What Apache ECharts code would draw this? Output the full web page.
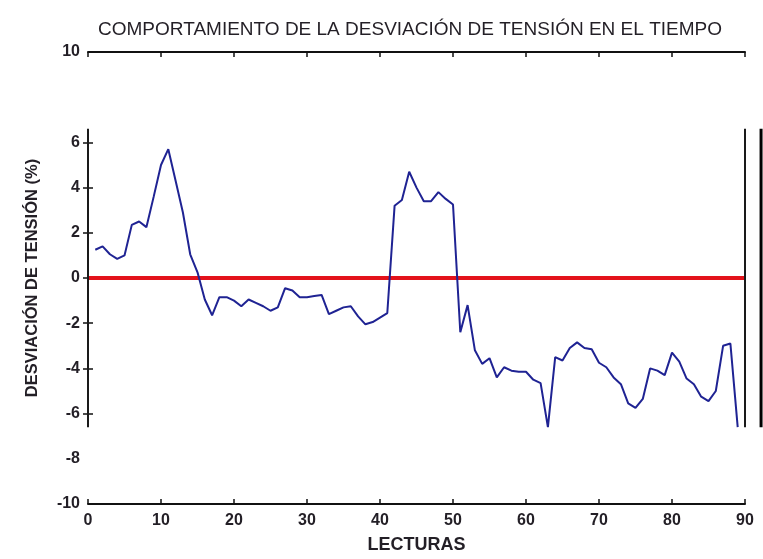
<!DOCTYPE html>
<html>
<head>
<meta charset="utf-8">
<script src="https://cdn.jsdelivr.net/npm/echarts@6/dist/echarts.min.js"></script>
<style>
  html, body { margin: 0; padding: 0; background: #fff; }
  #chart { width: 763px; height: 559px; }
</style>
</head>
<body>
<div id="chart"></div>
<script>
// lecturas 1..89, desviacion de tension (%)
var desviacion = [
  1.25, 1.4, 1.05, 0.85, 1.0, 2.35, 2.5, 2.25, 3.6, 5.0,
  5.7, 4.3, 2.9, 1.05, 0.25, -0.95, -1.65, -0.85, -0.85, -1.0,
  -1.25, -0.95, -1.1, -1.25, -1.45, -1.3, -0.45, -0.55, -0.85, -0.85,
  -0.8, -0.75, -1.6, -1.45, -1.3, -1.25, -1.7, -2.05, -1.95, -1.75,
  -1.55, 3.2, 3.45, 4.7, 4.0, 3.4, 3.4, 3.8, 3.5, 3.25,
  -2.4, -1.2, -3.2, -3.8, -3.55, -4.4, -3.95, -4.1, -4.15, -4.15,
  -4.5, -4.65, -6.6, -3.5, -3.65, -3.1, -2.85, -3.1, -3.15, -3.75,
  -3.95, -4.4, -4.7, -5.55, -5.75, -5.35, -4.0, -4.1, -4.3, -3.3,
  -3.7, -4.45, -4.7, -5.25, -5.45, -5.0, -3.0, -2.9, -6.6
];
var lineaCero = [[0, 0], [90, 0]];
var yLabels = [-10, -8, -6, -4, -2, 0, 2, 4, 6, 10];
var yTicks = [-6, -4, -2, 0, 2, 4, 6];
// tramo visible de los ejes verticales (recorte de la figura original)
var tramoEje = [-6.6, 6.6];
var marcoExtraX = 92.2;

var chart = echarts.init(document.getElementById('chart'));

var serieDatos = desviacion.map(function (v, i) { return [i + 1, v]; });

var txt = '#231f26';
var labelStyle = { color: txt, fontFamily: 'Liberation Sans', fontWeight: 'bold', fontSize: 16 };

var option = {
  animation: false,
  backgroundColor: '#fff',
  title: {
    text: 'COMPORTAMIENTO DE LA DESVIACIÓN DE TENSIÓN EN EL TIEMPO',
    left: 405,
    textAlign: 'center',
    top: 15,
    textStyle: { color: txt, fontFamily: 'Liberation Sans', fontWeight: 'normal', fontSize: 19 }
  },
  grid: { left: 88, right: 18, top: 52, bottom: 52 },
  xAxis: [{
    type: 'value', min: 0, max: 90, interval: 10, position: 'bottom',
    name: 'LECTURAS', nameLocation: 'middle', nameGap: 32,
    nameTextStyle: { color: txt, fontFamily: 'Liberation Sans', fontWeight: 'bold', fontSize: 18 },
    axisLine: { show: true, onZero: false, lineStyle: { color: '#111', width: 2 } },
    axisTick: { show: true, inside: true, length: 5, lineStyle: { color: '#111', width: 1.5 } },
    axisLabel: Object.assign({ margin: 9, showMinLabel: true, showMaxLabel: true }, labelStyle),
    splitLine: { show: false }
  }, {
    type: 'value', min: 0, max: 90, interval: 10, position: 'top',
    axisLine: { show: true, onZero: false, lineStyle: { color: '#111', width: 2 } },
    axisTick: { show: true, inside: true, length: 5, lineStyle: { color: '#111', width: 1.5 } },
    axisLabel: { show: false },
    splitLine: { show: false }
  }],
  yAxis: [{
    type: 'value', min: -10, max: 10, interval: 2, position: 'left',
    name: 'DESVIACIÓN DE TENSIÓN (%)', nameLocation: 'middle', nameGap: 47,
    nameTextStyle: { color: txt, fontFamily: 'Liberation Sans', fontWeight: 'bold', fontSize: 16.5 },
    axisLine: { show: false },
    axisTick: { show: true, inside: true, length: 5, customValues: yTicks, lineStyle: { color: '#111', width: 1.5 } },
    axisLabel: Object.assign({ margin: 8, customValues: yLabels, showMinLabel: true, showMaxLabel: true }, labelStyle),
    splitLine: { show: false }
  }, {
    type: 'value', min: -10, max: 10, interval: 2, position: 'right',
    axisLine: { show: false },
    axisTick: { show: true, inside: true, length: 5, customValues: yTicks, lineStyle: { color: '#111', width: 1.5 } },
    axisLabel: { show: false },
    splitLine: { show: false }
  }],
  series: [{
    name: 'cero',
    type: 'line',
    data: lineaCero,
    symbol: 'none',
    silent: true,
    lineStyle: { color: '#e3121b', width: 4 },
    markLine: {
      silent: true,
      symbol: ['none', 'none'],
      label: { show: false },
      lineStyle: { color: '#1a1a1a', width: 2, type: 'solid' },
      data: [
        [{ coord: [0, tramoEje[0]] }, { coord: [0, tramoEje[1]] }],
        [{ coord: [90, tramoEje[0]] }, { coord: [90, tramoEje[1]] }]
      ]
    }
  }, {
    name: 'desviacion',
    type: 'line',
    data: serieDatos,
    symbol: 'none',
    silent: true,
    lineStyle: { color: '#1f2393', width: 2 }
  }]
};

chart.setOption(option);

// linea vertical suelta a la derecha del marco (fuera del rango del eje)
var pA = chart.convertToPixel({ gridIndex: 0 }, [marcoExtraX, tramoEje[0]]);
var pB = chart.convertToPixel({ gridIndex: 0 }, [marcoExtraX, tramoEje[1]]);
chart.setOption({
  graphic: [{
    type: 'line',
    silent: true,
    shape: { x1: pA[0], y1: pA[1], x2: pB[0], y2: pB[1] },
    style: { stroke: '#000', lineWidth: 3 }
  }]
});
</script>
</body>
</html>
